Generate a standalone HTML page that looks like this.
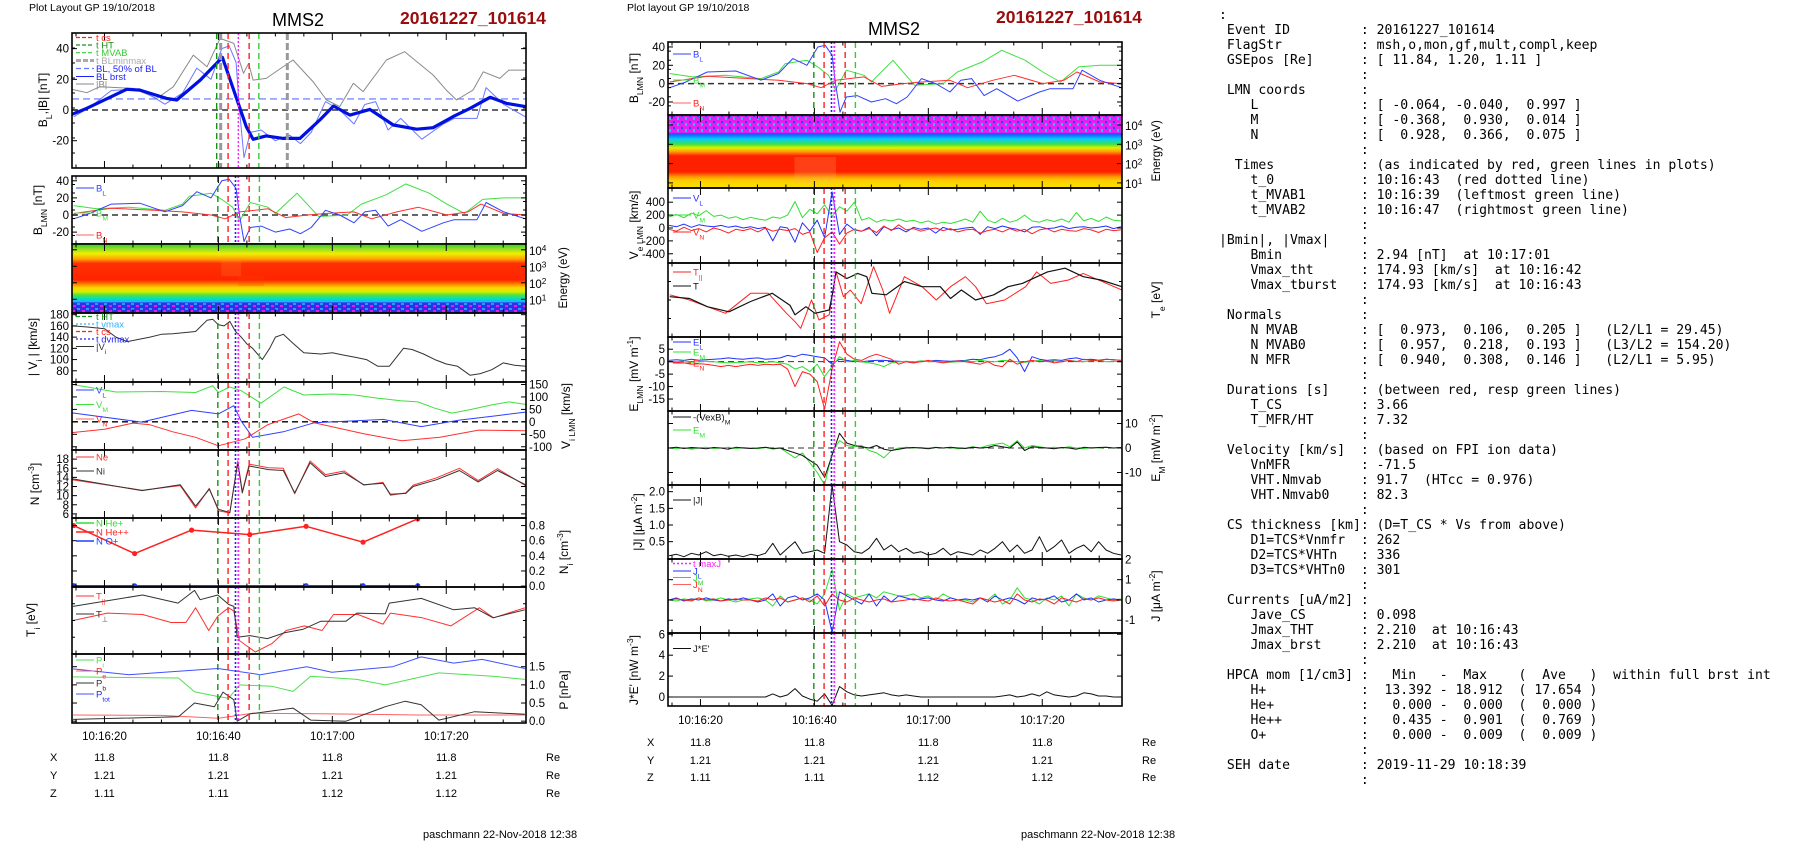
<!DOCTYPE html>
<html><head><meta charset="utf-8">
<style>
html,body{margin:0;padding:0;background:#fff;}
body{width:1804px;height:841px;overflow:hidden;position:relative;font-family:"Liberation Sans",sans-serif;}
#chart{position:absolute;left:0;top:0;}
#info{position:absolute;left:1219px;top:8px;margin:0;font-family:"DejaVu Sans Mono","Liberation Mono",monospace;font-size:13.1px;line-height:15px;color:#000;white-space:pre;}
</style></head>
<body>
<svg id="chart" width="1804" height="841" viewBox="0 0 1804 841" xmlns="http://www.w3.org/2000/svg">
<defs>
<pattern id="spkI" width="9" height="5" patternUnits="userSpaceOnUse"><rect width="9" height="5" fill="#3030e8"/><rect x="1" y="0" width="3" height="2" fill="#e020e8"/><rect x="5" y="3" width="3" height="2" fill="#20a0ff"/></pattern>
<pattern id="spkE" width="8" height="6" patternUnits="userSpaceOnUse"><rect width="8" height="6" fill="#e020f0"/><rect x="1" y="1" width="2" height="2" fill="#3040ff"/><rect x="5" y="3" width="2" height="3" fill="#20c0f0"/></pattern>
<linearGradient id="gI" x1="0" y1="0" x2="0" y2="1">
<stop offset="0" stop-color="#30d030"/><stop offset="0.08" stop-color="#a0e020"/><stop offset="0.14" stop-color="#f0f000"/><stop offset="0.22" stop-color="#ffa000"/><stop offset="0.28" stop-color="#ff3000"/><stop offset="0.52" stop-color="#ff2400"/><stop offset="0.58" stop-color="#ff8000"/><stop offset="0.63" stop-color="#ffd000"/><stop offset="0.69" stop-color="#d8f000"/><stop offset="0.74" stop-color="#50e040"/><stop offset="0.79" stop-color="#00e0c0"/><stop offset="0.84" stop-color="#20b0ff"/><stop offset="0.86" stop-color="#3030ff" stop-opacity="0"/></linearGradient>
<linearGradient id="gE" x1="0" y1="0" x2="0" y2="1">
<stop offset="0.24" stop-color="#3040ff" stop-opacity="0"/><stop offset="0.26" stop-color="#2050ff"/><stop offset="0.33" stop-color="#00d0ff"/><stop offset="0.40" stop-color="#40e040"/><stop offset="0.45" stop-color="#e0f000"/><stop offset="0.50" stop-color="#ffa000"/><stop offset="0.56" stop-color="#ff2000"/><stop offset="0.78" stop-color="#ff2000"/><stop offset="0.84" stop-color="#ff9000"/><stop offset="0.90" stop-color="#ffd000"/><stop offset="1" stop-color="#f8e000"/></linearGradient>
</defs>
</svg>
<pre id="info">:
 Event ID         : 20161227_101614
 FlagStr          : msh,o,mon,gf,mult,compl,keep
 GSEpos [Re]      : [ 11.84, 1.20, 1.11 ]
                  :
 LMN coords       :
    L             : [ -0.064, -0.040,  0.997 ]
    M             : [ -0.368,  0.930,  0.014 ]
    N             : [  0.928,  0.366,  0.075 ]
                  :
  Times           : (as indicated by red, green lines in plots)
    t_0           : 10:16:43  (red dotted line)
    t_MVAB1       : 10:16:39  (leftmost green line)
    t_MVAB2       : 10:16:47  (rightmost green line)
                  :
|Bmin|, |Vmax|    :
    Bmin          : 2.94 [nT]  at 10:17:01
    Vmax_tht      : 174.93 [km/s]  at 10:16:42
    Vmax_tburst   : 174.93 [km/s]  at 10:16:43
                  :
 Normals          :
    N MVAB        : [  0.973,  0.106,  0.205 ]   (L2/L1 = 29.45)
    N MVAB0       : [  0.957,  0.218,  0.193 ]   (L3/L2 = 154.20)
    N MFR         : [  0.940,  0.308,  0.146 ]   (L2/L1 = 5.95)
                  :
 Durations [s]    : (between red, resp green lines)
    T_CS          : 3.66
    T_MFR/HT      : 7.32
                  :
 Velocity [km/s]  : (based on FPI ion data)
    VnMFR         : -71.5
    VHT.Nmvab     : 91.7  (HTcc = 0.976)
    VHT.Nmvab0    : 82.3
                  :
 CS thickness [km]: (D=T_CS * Vs from above)
    D1=TCS*Vnmfr  : 262
    D2=TCS*VHTn   : 336
    D3=TCS*VHTn0  : 301
                  :
 Currents [uA/m2] :
    Jave_CS       : 0.098
    Jmax_THT      : 2.210  at 10:16:43
    Jmax_brst     : 2.210  at 10:16:43
                  :
 HPCA mom [1/cm3] :   Min   -  Max    (  Ave   )  within full brst int
    H+            :  13.392 - 18.912  ( 17.654 )
    He+           :   0.000 -  0.000  (  0.000 )
    He++          :   0.435 -  0.901  (  0.769 )
    O+            :   0.000 -  0.009  (  0.009 )
                  :
 SEH date         : 2019-11-29 10:18:39
                  :</pre>
<script>
// ---------- time axis ----------
const T0 = 14.3, T1 = 94.0;
const timeTicks = [20, 40, 60, 80];
const timeLabels = ["10:16:20", "10:16:40", "10:17:00", "10:17:20"];
const posX = ["11.8", "11.8", "11.8", "11.8"];
const posY = ["1.21", "1.21", "1.21", "1.21"];
const posZ = ["1.11", "1.11", "1.12", "1.12"];
// event line times
const evTimes = [39.9, 41.7, 43.0, 43.5, 45.4, 47.2];
const l1EvTimes = [39.7, 40.4, 41.7, 43.5, 45.4, 47.1, 52.1];
// ---------- left panel 1: BL, |B| ----------
const bThickT = [14.3,16.9,23.9,26.2,30.9,32.7,36.8,40.7,44.9,46.1,48.4,51.4,54.3,57.8,60.2,63.1,66.6,70.7,74.8,77.7,81.2,84.2,87.7,90.6,93.9];
const bThickV = [-2.8,1.1,13.5,13,7.6,6.5,19.5,34.3,-10.9,-19.1,-16.9,-18.5,-18.5,-6.5,2.6,-3.3,0.4,-9.8,-12.5,-11.5,-4.3,1.1,8.3,4.3,2.2];
const bMagT = [14.3,16.9,19.2,25.1,29.2,32.1,35.6,38,40.3,42.7,44.4,45.3,46.1,48.4,53.1,56.6,59,61.3,63.7,65.4,69.5,72.7,77.7,80,81.8,84.7,86.5,89.4,91,93.9];
const bMagV = [13.5,11.3,15.2,14.1,7.6,15.2,35.8,28.2,46.7,43.4,23.9,30.4,19.5,20.6,32.6,18.5,6.5,2.2,17.4,12,32.6,38,22.8,13,6.5,13,24.9,20.6,26,26];
const bHalf = 7.2;
// ---------- B LMN ----------
const bLT = [14.6,17.4,21.2,26.2,30.6,33.7,36.2,38.7,40.6,41.9,43.1,43.7,44.5,45.6,47.5,50,52.5,54.4,56.3,58.8,61.3,63.8,65.7,67.6,69.8,72,75.7,79.5,81.4,85.4,87,90.1,93.9];
const bLV = [-4.4,1.7,12.7,13.8,3.8,11,27.3,20,40,41.8,31,0,-31,-14.6,-13,-20,-16.4,-21.9,-14.6,5.5,0,-9.1,3.6,5.5,-13,-5.5,-19,-9.1,-5.5,-5.5,14.6,3.6,-4.4];
const bMT = [14.6,18.6,24.3,30.6,33.7,34.9,38.7,40.6,42.5,43.7,45.6,48.7,50,53.8,57.6,62.6,65.1,69.5,72.9,77,80.1,83.2,86.4,90.1,93.9];
const bMV = [11,7.3,9.1,5.5,12.7,21.9,25.5,18.2,9.1,-7.3,14.6,9.1,1.8,25.5,-1.8,0,12.7,23.7,36.4,25.5,12.7,1.8,18.2,20,20];
const bNT = [14.6,21.2,28.7,33.7,38.7,41.2,43.7,48.7,51.8,55.6,58.8,63.8,66.9,71.3,75.1,80.1,83.8,86.1,90.1,93.9];
const bNV = [1.8,8,5.5,3.6,0,-4.4,3.6,7.3,-3,0,1.8,3.6,-4.4,3.6,9.1,0,3.6,12.7,1.8,0];
// ---------- |Vi| ----------
const viT = [14.4,17,20,22,24,26,28,30,32,34,36,38,39,40,41,42,43,44,45,46,47.7,49,50,51.4,53,55,58,60,62,64,66,68,70,72.5,74,76,78,80,82,84.2,86,88,90,92,94];
const viV = [160,158,155,140,132,136,140,145,146,148,150,170,172,162,160,168,150,140,128,120,100,120,140,145,130,112,110,112,108,104,100,88,88,120,118,110,100,92,88,72,75,82,94,90,88];
// ---------- Vi LMN ----------
const vMT = [14.4,17,22,30,36,39,40,42,44,47.5,51.5,55,60,64,68,72,75,78,81,84,88,91,93.9];
const vMV = [150,140,120,122,118,145,118,140,125,75,140,108,112,108,95,85,80,55,35,48,68,80,70];
const vLT = [14.3,26.5,35.3,40,42.7,44,46,51.4,56.8,68.9,75.6,82.3,89,93.9];
const vLV = [36,-1,46,32,65,3,-62,-40,-4,10,-19,7,25,39];
const vNT = [14.3,20,25,28,32,36,40,44.7,48.7,54.1,56.8,65.5,72.2,78.9,85.7,93.9];
const vNV = [-43,-30,-5,-12,-40,-62,-96,-68,-11,32,-4,-48,-76,-62,-33,-36];
// ---------- densities ----------
const nT = [14.3,26.6,33.3,36,38.4,40,42,43.4,44.2,45.4,48.8,51.4,53.4,56.1,58.8,62.1,65.5,68.9,70.2,72.9,74.2,78.3,82.3,85.6,89,93.9];
const niV = [13.7,11.1,12.4,7.7,11.4,7,6.3,17.2,10.6,16.5,15.7,15.5,10.6,17.2,14.2,15,12.4,12.7,10.3,10.5,12,13.5,15.5,13,15.5,12.4];
const neV = [13.5,11.2,12.2,7.3,11.6,6.7,6.2,17.6,10.8,16.9,16.1,16,10.4,17.6,14.6,15.4,12.3,12.9,10.1,10.6,12.3,13.9,16,13.3,15.9,12.2];
const heT = [14.6,25.3,35.3,45.5,55.4,65.4,75];
const heV = [0.8,0.43,0.74,0.68,0.79,0.58,0.89];
const oT = [14.6,25.3,55.4,65.4,75];
const oV = [0.005,0.004,0.005,0.005,0.005];
// ---------- Ti ----------
const tPerpT = [14.5,26.7,32.9,35.8,36.8,39.9,41.8,42.7,43.3,45.5,48.6,51.7,54.9,58,62.4,64.3,69.3,70,75.6,81.3,85,88.2,93.8];
const tPerpV = [71,88,76,95,81,88,74,71,25,27.5,23,32,37,49,49,61,60,76,83,66,69,54,66];
const tParT = [14.5,20.5,26.7,31.7,34.3,36,38.3,39.9,41.8,42.7,43.7,46.5,49.4,51.9,55.1,58.2,60.2,64.5,68.9,70.2,75.8,80.8,85.8,88.3,93.8];
const tParV = [50,61,59,47,47,69,35,56.5,69,64,20,3,15.5,35,42,35,59,59,44.5,61,54,42,69,54,69];
// ---------- pressure ----------
const pTotT = [14.5,24.2,39.9,47.4,55.5,59.9,70.6,75.6,81.3,86.3,93.8];
const pTotV = [1.44,1.28,1.45,1.28,1.5,1.35,1.5,1.77,1.6,1.7,1.45];
const pIT = [14.5,33,35.8,39.9,41.8,43.7,49.4,53.1,56.2,64.3,69.3,78.7,88.2,93.8];
const pIV = [1.22,1.19,0.81,0.68,0.63,1.0,0.96,0.82,1.24,1.15,1.0,1.33,1.24,1.15];
const pBT = [14.5,33,35.8,39.3,40.8,42.7,43.3,45.5,53.1,56.2,62.4,69.3,72.8,75.6,78.7,85,93.8];
const pBV = [0.05,0.12,0.5,0.4,0.8,0.59,0,0.2,0.36,0.03,0,0.4,0.55,0.45,0.03,0.26,0.19];
const pET = [14.5,30,40,46,60,75,93.8];
const pEV = [0.17,0.16,0.08,0.22,0.2,0.17,0.17];
// ---------- Te ----------
const tePerpT = [14.6,18.1,21.2,25,28.8,32.6,35.7,36.6,38.5,40.1,42.6,43.2,43.8,45.7,47.6,49.2,50.1,52.6,55.8,58.9,62.1,63.9,65.8,68.3,71.5,74,76.5,80.9,84,87.2,90.3,94];
const tePerpV = [54.5,52,41,34,48,59,43,30,41,32,36.5,59,88,79,86,81.5,59,57,74.8,68,68,52,63.5,50,57,68,72.5,88,93,81.5,77,68];
const teParT = [14.6,18.1,21.2,24.4,28.8,31.9,35.1,36.6,37.6,39.5,40.8,42.6,43.8,45.1,46.3,48.2,50.4,52,53.2,55.8,58.9,61.4,63.9,66.5,68.3,70.2,73.4,77.1,79,81.5,84.6,87.2,94];
const teParV = [57,50,41,32,59,59,32,20.7,11.7,50,23,30,88,54.5,63.5,45,95,63.5,32,81.5,68,50,68,81.5,68,45,50,68,88,72.5,77,86,63.5];
// ---------- noisy burst series (common time base) ----------
const tN = [14.5,15.8,17.1,18.4,19.7,21,22.3,23.6,24.9,26.2,27.5,28.8,30.1,31.4,32.7,34,35.3,36.6,37.9,39.2,40.5,41.8,43.1,44.4,45.7,47,48.3,49.6,50.9,52.2,53.5,54.8,56.1,57.4,58.7,60,61.3,62.6,63.9,65.2,66.5,67.8,69.1,70.4,71.7,73,74.3,75.6,76.9,78.2,79.5,80.8,82.1,83.4,84.7,86,87.3,88.6,89.9,91.2,92.5,93.8];
const veM = [170,210,160,230,190,270,180,200,150,175,130,165,140,120,170,150,200,410,160,290,220,360,180,330,260,400,120,160,90,130,110,140,100,120,80,110,60,90,70,100,140,90,260,120,80,150,90,120,200,110,90,130,100,140,90,240,110,150,100,170,120,110];
const veL = [40,20,60,10,50,30,20,40,10,30,0,20,-10,10,-200,20,0,-220,80,-50,120,-150,560,-100,60,-30,-50,10,-120,20,-30,0,-60,10,-20,0,-80,10,-30,-20,0,10,-100,20,-10,30,0,-20,-60,10,20,-10,0,30,-10,10,20,0,10,30,-10,20];
const veN = [-20,-50,10,-40,-10,-60,0,-30,-80,-20,-40,-10,-60,0,-50,-20,-40,-10,-100,-60,-380,-150,-60,-250,-80,-20,-50,-10,-70,30,-40,50,-30,-10,-50,-20,0,-40,-10,-60,-30,-20,-80,-40,-20,-60,-10,-50,-20,-90,-30,-10,-60,-20,-40,-50,-10,-30,-70,-20,-40,-30];
const eL = [0.5,0.8,0.5,1,0.6,0.8,1,1.2,1.5,1.2,1,1.3,1.5,1,1.2,1.5,2.5,2,3,2.5,2,1.5,-1,1,0.5,0.2,0,0.3,0.5,0.5,0.3,0.2,0,-0.5,0.3,0.2,0.5,0.3,0.2,0.4,0.5,1,0.8,1.5,2,3,5,1.5,-4,2,1,0.5,0.8,0.5,1.2,1.5,0.8,1,0.6,1,0.8,0.5];
const eM = [0.2,0,0.3,-0.2,0,0.2,0,-0.3,-0.5,-0.3,-0.2,0,-0.5,-0.3,0,-0.5,-1,-3,-2,-4,-1,-6,-2,2,0,0.5,0,-0.5,-1,-2,-0.5,0,0.2,0,0.3,0,0.2,0,-0.2,0,0.3,0,0.5,0.2,0,0.5,0.3,0,-0.3,0.2,0.5,0,0.3,0,0.5,0.2,0,0.3,0.5,0,0.2,0];
const eN = [0,-0.3,-0.5,-1,-0.8,-1,-1.5,-2,-1.5,-2,-1.5,-1,-1.5,-1,-1.2,-1,-3,-10,-4,-5,-8,-19,-3,8,3,1,0.5,2,3,2,1,-1,0,-0.5,0,0.5,0,-0.5,0,0.3,0,-0.5,-1,0,-1.5,-2,1,-1,0,0.5,0,0.3,-0.5,0,0.5,0,1,0.5,0.3,1,0.8,0.5];
const vxbM = [0,0.3,-0.2,0.2,0,-0.3,0.2,0,-0.5,0.3,0,-0.2,0,0.3,-0.2,0,-1,-2,-3,-5,-7,-12,-3,6,2,1,0.5,0,1,-0.5,-1,-0.5,0,0.2,0,-0.3,0.2,0,0.3,0,-0.2,0.3,0,0.2,1,0.5,0,2.5,-1,0.5,0.2,0,-0.3,0.2,0,-0.5,0.3,0,0.2,0.3,0,0.2];
const emM = [0,-0.3,0.2,-0.5,0,0.3,-0.2,0,0.3,-0.3,0.2,0,-0.3,0.2,-0.5,0,-2,-4,-2,-6,-10,-15,-2,3,1,0.5,1,-1,-2,-4,-1,0,0.3,0,0.2,0,0.3,0,0.2,-0.3,0,0.5,0,1,1.5,2,0.5,3,0,1,0.5,0,0.3,0,0.5,0,-0.3,0.2,0,0.3,0,0.2];
const jMag = [0.08,0.12,0.05,0.15,0.1,0.2,0.08,0.12,0.06,0.1,0.05,0.12,0.08,0.15,0.45,0.1,0.3,0.5,0.15,0.2,0.25,0.15,2.2,0.5,0.4,0.2,0.15,0.3,0.6,0.25,0.4,0.2,0.3,0.15,0.2,0.1,0.15,0.3,0.1,0.2,0.15,0.1,0.25,0.15,0.3,0.5,0.2,0.4,0.15,0.25,0.65,0.2,0.35,0.55,0.15,0.3,0.4,0.2,0.5,0.25,0.15,0.1];
const jL = [0,0.1,-0.05,0.05,0,0.1,0,-0.05,0.05,0,0.1,0,-0.1,0,0.3,-0.3,0.1,0.2,0,0.1,0.3,0,-1.6,0.4,0.2,0,-0.2,0.3,-0.3,0.2,-0.1,0.2,0.1,0,0.05,0.1,0,-0.05,0.1,0,0.05,0,0.1,-0.1,0.2,0,0.1,0,-0.2,0.1,0,0.05,0.2,-0.1,0,0.3,0,0.1,-0.1,0,0.05,0];
const jM = [0,-0.05,0.05,0,0.1,-0.05,0,0.1,0,-0.1,0,0.05,0.1,0,-0.3,0.2,-0.1,0,0.1,0,-0.2,0.3,1.5,-0.5,0.3,0.1,0.2,0.3,0.1,0.4,0.3,0.2,0.2,0.3,0.1,0.2,0,0.3,0.1,0,0,-0.1,0.1,0,0.3,-0.2,0,0.6,0.1,0,-0.2,0.1,0,0.2,-0.3,0.3,0.1,0,0.2,0.1,0,0.05];
const jN = [0,0.05,0,-0.05,0.1,0,0.05,-0.05,0,0.05,0,0,-0.05,0.1,0,0.1,-0.1,0,0.1,-0.1,0.2,-0.3,0.3,0,-0.1,0.1,0,-0.1,0,0.05,-0.1,-0.05,0,0.05,0,-0.05,0.1,0,-0.05,0,-0.1,-0.2,0.1,0,-0.1,0,-0.2,0.3,0,-0.1,0.05,0,-0.2,0.1,0,-0.1,0.05,0,0.1,0,-0.05,0];
const jE = [0,0,0,0,0,0,0,0,0,0,0,0,0,0,0.3,0,0.2,0.8,0.1,-0.2,-0.4,0.3,-0.8,1,0.5,0.2,0.1,0.2,0.3,0.4,0.2,0.1,0.2,0.1,0,0,0,0,0,0,0,0,0,0,0,0.1,0.2,0,0.1,0.3,0.1,0.5,0.2,0.1,0,0.1,0.4,0.3,0.1,0.1,0,0];
// spectrogram energy tick decades
const decades = [4, 3, 2, 1];

const NS = "http://www.w3.org/2000/svg";
const svg = document.getElementById("chart");
function mk(tag, attrs, parent, name) {
  const e = document.createElementNS(NS, tag);
  for (const k in attrs) e.setAttribute(k, attrs[k]);
  
  
  (parent || svg).appendChild(e);
  return e;
}
function txt(x, y, parts, opt, parent, name) {
  opt = opt || {};
  const t = mk("text", {x: x, y: y, "font-size": opt.fs || 11, fill: opt.fill || "#000",
    "text-anchor": opt.anchor || "start", "font-family": "Liberation Sans, sans-serif",
    "font-weight": opt.fw || "normal"}, parent, name);
  if (opt.rot) t.setAttribute("transform", "rotate(-90 " + x + " " + y + ")");
  if (typeof parts === "string") parts = [[parts]];
  parts.forEach(p => {
    const s = document.createElementNS(NS, "tspan");
    s.textContent = p[0];
    if (p[1] === "sub") { s.setAttribute("baseline-shift", "sub"); s.setAttribute("font-size", (opt.fs || 11) * 0.72); }
    if (p[1] === "sup") { s.setAttribute("baseline-shift", "super"); s.setAttribute("font-size", (opt.fs || 11) * 0.72); }
    
    
    t.appendChild(s);
  });
  return t;
}
let clipN = 0;
function panel(x0, x1, y0, y1, dmin, dmax, name) {
  const g = mk("g", {}, svg, name);
  const id = "c" + (clipN++);
  const cp = mk("clipPath", {id: id}, svg.querySelector("defs"), name + "-clip");
  mk("rect", {x: x0, y: y0, width: x1 - x0, height: y1 - y0}, cp, name + "-clip-rect");
  const inner = mk("g", {"clip-path": "url(#" + id + ")"}, g, name + "-plot-area");
  const p = {x0, x1, y0, y1, dmin, dmax, g, inner, name};
  p.X = t => x0 + (t - T0) / (T1 - T0) * (x1 - x0);
  p.Y = v => y0 + (dmax - v) / (dmax - dmin) * (y1 - y0);
  return p;
}
function frame(p) {
  mk("rect", {x: p.x0, y: p.y0, width: p.x1 - p.x0, height: p.y1 - p.y0, fill: "none", stroke: "#000", "stroke-width": 1.6}, p.g, p.name + "-frame");
  for (let t = 15; t <= 90; t += 5) {
    const L = (t % 20 === 0) ? 7 : 3.5;
    const x = p.X(t);
    mk("line", {x1: x, x2: x, y1: p.y1, y2: p.y1 - L, stroke: "#000", "stroke-width": 1}, p.g, "x-tick");
    mk("line", {x1: x, x2: x, y1: p.y0, y2: p.y0 + L, stroke: "#000", "stroke-width": 1}, p.g, "x-tick");
  }
}
function yTicks(p, vals, side, fmt) {
  vals.forEach(v => {
    const y = p.Y(v);
    mk("line", {x1: p.x0, x2: p.x0 + 5, y1: y, y2: y, stroke: "#000"}, p.g, "y-tick");
    mk("line", {x1: p.x1, x2: p.x1 - 5, y1: y, y2: y, stroke: "#000"}, p.g, "y-tick");
    if (side) {
      const s = fmt ? fmt(v) : String(v);
      if (side === "left") txt(p.x0 - 3, y + 4, s, {anchor: "end", fs: 11.5}, p.g, "y-tick-label");
      else txt(p.x1 + 3, y + 4, s, {anchor: "start", fs: 11.5}, p.g, "y-tick-label");
    }
  });
}
function minorY(p, n) {
  for (let i = 1; i < n; i++) {
    const y = p.y0 + i * (p.y1 - p.y0) / n;
    mk("line", {x1: p.x0, x2: p.x0 + 3, y1: y, y2: y, stroke: "#000"}, p.g, "y-minor-tick");
    mk("line", {x1: p.x1, x2: p.x1 - 3, y1: y, y2: y, stroke: "#000"}, p.g, "y-minor-tick");
  }
}
function series(p, ts, vs, color, w, name, dash) {
  let d = "";
  ts.forEach((t, i) => { d += (i ? "L" : "M") + p.X(t).toFixed(1) + " " + p.Y(vs[i]).toFixed(1); });
  const a = {d: d, fill: "none", stroke: color, "stroke-width": w || 1, "stroke-linejoin": "round"};
  if (dash) a["stroke-dasharray"] = dash;
  return mk("path", a, p.inner, name);
}
function hline(p, v, color, dash, name, w) {
  mk("line", {x1: p.x0, x2: p.x1, y1: p.Y(v), y2: p.Y(v), stroke: color, "stroke-dasharray": dash, "stroke-width": w || 1.4}, p.inner, name);
}
function evLines(p, times, styles) {
  times.forEach((t, i) => {
    const s = styles[i];
    mk("line", {x1: p.X(t), x2: p.X(t), y1: p.y0, y2: p.y1, stroke: s[0], "stroke-width": s[1], "stroke-dasharray": s[2]}, p.inner, "event-line-" + s[3]);
  });
}
const evStyle = [["#139413",1.4,"6 4","t-ht-start"],["#ff2020",1.4,"6 4","t-cs-start"],["#2020ff",1.6,"2 2","t-dvmax"],["#ff20ff",1.8,"2 2","t-0"],["#ff2020",1.4,"6 4","t-cs-end"],["#33cc33",1.4,"6 4","t-ht-end"]];
const l1Style = [["#139413",1.4,"6 4","t-ht-start"],["#999",3,"7 3","t-blminmax-1"],["#ff2020",1.4,"6 4","t-cs-start"],["#ff20ff",1.4,"2 2","t-0"],["#ff2020",1.4,"6 4","t-cs-end"],["#33cc33",1.4,"6 4","t-mvab-end"],["#999",3,"7 3","t-blminmax-2"]];
function legend(p, x, items) {
  items.forEach(it => {
    const a = {x1: x, x2: x + 18, y1: it[0], y2: it[0], stroke: it[1], "stroke-width": it[3] || 1};
    if (it[2]) a["stroke-dasharray"] = it[2];
    mk("line", a, p.g, "legend-swatch");
    txt(x + 20, it[0] + 3.5, it[4], {fs: 9.5, fill: it[5] || it[1]}, p.g, "legend-label");
  });
}
function dots(p, ts, vs, color, name) {
  ts.forEach((t, i) => mk("circle", {cx: p.X(t), cy: p.Y(vs[i]), r: 2.6, fill: color}, p.inner, name));
}
function timeAxis(x0, x1, yLab, yX, yY, yZ, xLab, xRe, nm) {
  const p = {X: t => x0 + (t - T0) / (T1 - T0) * (x1 - x0)};
  const g = mk("g", {}, svg, nm);
  timeTicks.forEach((t, i) => {
    txt(p.X(t), yLab, timeLabels[i], {anchor: "middle", fs: 11.5}, g, "time-tick-label");
    txt(p.X(t), yX, posX[i], {anchor: "middle", fs: 11}, g, "x-position-value");
    txt(p.X(t), yY, posY[i], {anchor: "middle", fs: 11}, g, "y-position-value");
    txt(p.X(t), yZ, posZ[i], {anchor: "middle", fs: 11}, g, "z-position-value");
  });
  txt(xLab, yX, "X", {fs: 11}, g, "x-row-label");
  txt(xLab, yY, "Y", {fs: 11}, g, "y-row-label");
  txt(xLab, yZ, "Z", {fs: 11}, g, "z-row-label");
  [yX, yY, yZ].forEach(y => txt(xRe, y, "Re", {fs: 11}, g, "re-unit"));
}
function spectro(p, kind, decY, labX) {
  if (kind === "ion") {
    mk("rect", {x: p.x0, y: p.y0 + 0.84 * (p.y1 - p.y0), width: p.x1 - p.x0, height: 0.16 * (p.y1 - p.y0), fill: "url(#spkI)"}, p.inner, "ion-spectrogram-noise");
    mk("rect", {x: p.x0, y: p.y0, width: p.x1 - p.x0, height: p.y1 - p.y0, fill: "url(#gI)"}, p.inner, "ion-spectrogram");
    mk("rect", {x: p.X(40.5), y: p.y0 + 14, width: p.X(44) - p.X(40.5), height: 18, fill: "#ff9030", opacity: 0.2}, p.inner, "ion-spectrogram-disturbance");
    mk("rect", {x: p.X(43.5), y: p.y0 + 32, width: p.X(48) - p.X(43.5), height: 10, fill: "#ff4000", opacity: 0.25}, p.inner, "ion-spectrogram-disturbance");
  } else {
    mk("rect", {x: p.x0, y: p.y0, width: p.x1 - p.x0, height: 0.26 * (p.y1 - p.y0), fill: "url(#spkE)"}, p.inner, "electron-spectrogram-noise");
    mk("rect", {x: p.x0, y: p.y0, width: p.x1 - p.x0, height: p.y1 - p.y0, fill: "url(#gE)"}, p.inner, "electron-spectrogram");
    mk("rect", {x: p.X(36.5), y: p.y0 + 42, width: p.X(43.8) - p.X(36.5), height: 26, fill: "#ffb060", opacity: 0.22}, p.inner, "electron-spectrogram-disturbance");
  }
  decades.forEach(d => {
    const y = decY(d);
    mk("line", {x1: p.x1, x2: p.x1 - 5, y1: y, y2: y, stroke: "#000"}, p.g, "energy-tick");
    mk("line", {x1: p.x0, x2: p.x0 + 5, y1: y, y2: y, stroke: "#000"}, p.g, "energy-tick");
    txt(p.x1 + 3, y + 5, [["10"], [String(d), "sup"]], {fs: 11.5}, p.g, "energy-tick-label");
  });
  txt(labX, (p.y0 + p.y1) / 2 + 30, "Energy (eV)", {fs: 11.5, rot: true}, p.g, "energy-axis-title");
}

// ================= titles =================
txt(29, 11, "Plot Layout GP 19/10/2018", {fs: 10.5}, svg, "left-layout-caption");
txt(298, 26, "MMS2", {fs: 18, anchor: "middle"}, svg, "left-spacecraft-title");
txt(400, 24, "20161227_101614", {fs: 17.5, fw: "bold", fill: "#9a0c0c"}, svg, "left-event-id-title");
txt(627, 11, "Plot layout GP 19/10/2018", {fs: 10.5}, svg, "mid-layout-caption");
txt(894, 35, "MMS2", {fs: 18, anchor: "middle"}, svg, "mid-spacecraft-title");
txt(996, 23, "20161227_101614", {fs: 17.5, fw: "bold", fill: "#9a0c0c"}, svg, "mid-event-id-title");
txt(423, 838, "paschmann 22-Nov-2018 12:38", {fs: 11}, svg, "left-author-stamp");
txt(1021, 838, "paschmann 22-Nov-2018 12:38", {fs: 11}, svg, "mid-author-stamp");

const LX0 = 72, LX1 = 526, MX0 = 668, MX1 = 1122;

// ================= LEFT COLUMN =================
let p = panel(LX0, LX1, 33, 168, -37.8, 50.2, "bl-babs-panel");
hline(p, 0, "#333", "6 4", "zero-line");
hline(p, bHalf, "#7a8cff", "7 4", "bl-50pct-line");
series(p, bMagT, bMagV, "#8a8a8a", 1, "babs-line");
series(p, bLT, bLV, "#6a78ff", 1, "bl-brst-line");
series(p, bThickT, bThickV, "#0010e0", 3.2, "bl-smooth-line");
evLines(p, l1EvTimes, l1Style);
frame(p); yTicks(p, [40, 20, 0, -20], "left"); minorY(p, 9);
legend(p, 76, [[37.5,"#ff2020","4 2",1.2,[["t  cs"]]],[45,"#139413","4 2",1.2,[["t  HT"]]],[52.7,"#33cc33","4 2",1.2,[["t  MVAB"]],"#33cc33"],[60.5,"#aaa","5 2",3,[["t  BLminmax"]]],[68.5,"#6a78ff","5 3",1.2,[["BL, 50% of BL"]],"#2020ff"],[76.5,"#2020ff",null,1,[["BL  brst"]]],[84,"#888",null,1,[["|B|"]]]]);
txt(47, 100, [["B"], ["L", "sub"], [",|B| [nT]"]], {fs: 12, rot: true, anchor: "middle"}, p.g, "bl-axis-title");

p = panel(LX0, LX1, 176, 244, -33.9, 45.6, "blmn-panel-left");
hline(p, 0, "#333", "6 4", "zero-line");
series(p, bMT, bMV, "#40e040", 1, "bm-line");
series(p, bNT, bNV, "#ff3030", 1, "bn-line");
series(p, bLT, bLV, "#3040ff", 1, "bl-line");
evLines(p, evTimes, evStyle);
frame(p); yTicks(p, [40, 20, 0, -20], "left"); minorY(p, 8);
legend(p, 76, [[188,"#3040ff",null,1,[["B"],["L","sub"]]],[213,"#40e040",null,1,[["B"],["M","sub"]]],[235,"#ff6060",null,1,[["B"],["N","sub"]],"#ff2020"]]);
txt(42, 210, [["B"], ["LMN", "sub"], [" [nT]"]], {fs: 12, rot: true, anchor: "middle"}, p.g, "blmn-axis-title");

p = panel(LX0, LX1, 244, 313, 0, 1, "ion-spectrogram-panel");
spectro(p, "ion", d => 244 + (4.35 - d) * 16.5, 567);
frame(p);

p = panel(LX0, LX1, 313, 382, 60, 183, "vi-magnitude-panel");
series(p, viT, viV, "#333", 1, "vi-line");
evLines(p, evTimes, evStyle);
frame(p); yTicks(p, [180, 160, 140, 120, 100, 80], "left");
legend(p, 76, [[316.5,"#139413","4 2",1.2,[["t  HT"]]],[324,"#30b0ff","2 2",1.2,[["t  vmax"]]],[331.5,"#ff2020","4 2",1.2,[["t  cs"]]],[339,"#2020ff","2 2",1.2,[["t  dvmax"]]],[346.5,"#333",null,1,[["|V"],["i","sub"]],"#333"]]);
txt(37, 347, [["| V"], ["i", "sub"], [" | [km/s]"]], {fs: 12, rot: true, anchor: "middle"}, p.g, "vi-axis-title");

p = panel(LX0, LX1, 382, 450, -113, 160, "vi-lmn-panel");
hline(p, 0, "#000", "6 4", "zero-line");
series(p, vMT, vMV, "#40e040", 1, "vm-line");
series(p, vLT, vLV, "#3040ff", 1, "vl-line");
series(p, vNT, vNV, "#ff3030", 1, "vn-line");
evLines(p, evTimes, evStyle);
frame(p); yTicks(p, [150, 100, 50, 0, -50, -100], "right");
legend(p, 76, [[390,"#3040ff",null,1,[["V"],["L","sub"]]],[404.5,"#40e040",null,1,[["V"],["M","sub"]]],[419,"#ff6060",null,1,[["V"],["N","sub"]],"#ff2020"]]);
txt(570, 416, [["V"], ["i LMN", "sub"], [" [km/s]"]], {fs: 12, rot: true, anchor: "middle"}, p.g, "vi-lmn-axis-title");

p = panel(LX0, LX1, 450, 518, 5.1, 20, "density-panel");
series(p, nT, neV, "#ff3030", 1, "ne-line");
series(p, nT, niV, "#333", 1, "ni-line");
evLines(p, evTimes, evStyle);
frame(p); yTicks(p, [18, 16, 14, 12, 10, 8, 6], "left");
legend(p, 76, [[457,"#ff3030",null,1,[["Ne"]]],[471,"#333",null,1,[["Ni"]]]]);
txt(39, 484, [["N [cm"], ["-3", "sup"], ["]"]], {fs: 12, rot: true, anchor: "middle"}, p.g, "density-axis-title");

p = panel(LX0, LX1, 518, 587, -0.012, 0.9, "hpca-density-panel");
series(p, oT, oV, "#2040ff", 1.5, "o-plus-line");
dots(p, oT, oV, "#2040ff", "o-plus-point");
series(p, heT, heV, "#ff2020", 1.5, "he-pp-line");
dots(p, heT, heV, "#ff2020", "he-pp-point");
evLines(p, evTimes, evStyle);
frame(p); yTicks(p, [0.8, 0.6, 0.4, 0.2, 0.0], "right", v => v.toFixed(1));
legend(p, 76, [[523,"#30e030",null,1.5,[["N  He+"]]],[532,"#ff2020",null,1.5,[["N  He++"]]],[541,"#2040ff",null,1.5,[["N  O+"]]]]);
txt(568, 552, [["N"], ["i", "sub"], [" [cm"], ["-3", "sup"], ["]"]], {fs: 12, rot: true, anchor: "middle"}, p.g, "hpca-density-axis-title");

p = panel(LX0, LX1, 587, 654, 0, 100, "ion-temperature-panel");
series(p, tParT, tParV, "#ff3030", 1, "ti-par-line");
series(p, tPerpT, tPerpV, "#333", 1, "ti-perp-line");
evLines(p, evTimes, evStyle);
frame(p); minorY(p, 4);
legend(p, 76, [[596,"#ff3030",null,1,[["T"],["||","sub"]]],[614,"#333",null,1,[["T"],["⊥","sub"]]]]);
txt(35, 620, [["T"], ["i", "sub"], [" [eV]"]], {fs: 12, rot: true, anchor: "middle"}, p.g, "ti-axis-title");

p = panel(LX0, LX1, 654, 723, -0.05, 1.85, "pressure-panel");
series(p, pTotT, pTotV, "#4050ff", 1, "ptot-line");
series(p, pIT, pIV, "#50e050", 1, "pi-line");
series(p, pET, pEV, "#ff6060", 1, "pe-line");
series(p, pBT, pBV, "#333", 1, "pb-line");
evLines(p, evTimes, evStyle);
frame(p); yTicks(p, [1.5, 1.0, 0.5, 0.0], "right", v => v.toFixed(1));
legend(p, 76, [[660,"#50e050",null,1,[["P"],["i","sub"]]],[671,"#ff6060",null,1,[["P"],["e","sub"]],"#ff2020"],[683,"#333",null,1,[["P"],["b","sub"]]],[694,"#4050ff",null,1,[["P"],["tot","sub"]],"#2020ff"]]);
txt(568, 690, "P [nPa]", {fs: 12, rot: true, anchor: "middle"}, p.g, "pressure-axis-title");

timeAxis(LX0, LX1, 740, 761, 779, 797, 50, 546, "left-time-axis");

// ================= MIDDLE COLUMN =================
p = panel(MX0, MX1, 42, 115, -34.2, 45.4, "blmn-panel-mid");
hline(p, 0, "#333", "6 4", "zero-line");
series(p, bMT, bMV, "#40e040", 1, "bm-line");
series(p, bNT, bNV, "#ff3030", 1, "bn-line");
series(p, bLT, bLV, "#3040ff", 1, "bl-line");
evLines(p, evTimes, evStyle);
frame(p); yTicks(p, [40, 20, 0, -20], "left"); minorY(p, 8);
legend(p, 673, [[54,"#3040ff",null,1,[["B"],["L","sub"]]],[80,"#40e040",null,1,[["B"],["M","sub"]]],[103,"#ff6060",null,1,[["B"],["N","sub"]],"#ff2020"]]);
txt(638, 78, [["B"], ["LMN", "sub"], [" [nT]"]], {fs: 12, rot: true, anchor: "middle"}, p.g, "blmn-mid-axis-title");

p = panel(MX0, MX1, 115, 188, 0, 1, "electron-spectrogram-panel");
spectro(p, "ele", d => 125 + (4 - d) * 19.3, 1160);
frame(p);

p = panel(MX0, MX1, 188, 263, -543, 620, "ve-lmn-panel");
series(p, tN, veM, "#30e030", 1, "vem-line");
series(p, tN, veL, "#2030ff", 1, "vel-line");
series(p, tN, veN, "#ff2020", 1, "ven-line");
evLines(p, evTimes, evStyle);
frame(p); yTicks(p, [400, 200, 0, -200, -400], "left");
legend(p, 673, [[198,"#2030ff",null,1,[["V"],["L","sub"]]],[215,"#30e030",null,1,[["V"],["M","sub"]]],[232,"#ff2020",null,1,[["V"],["N","sub"]]]]);
txt(638, 225, [["V"], ["e LMN", "sub"], [" [km/s]"]], {fs: 12, rot: true, anchor: "middle"}, p.g, "ve-lmn-axis-title");

p = panel(MX0, MX1, 263, 337, 0, 100, "electron-temperature-panel");
series(p, teParT, teParV, "#ff2020", 1, "te-par-line");
series(p, tePerpT, tePerpV, "#111", 1.2, "te-perp-line");
evLines(p, evTimes, evStyle);
frame(p); minorY(p, 4);
legend(p, 673, [[272,"#ff2020",null,1,[["T"],["||","sub"]]],[286,"#111",null,1,[["T"]]]]);
txt(1160, 300, [["T"], ["e", "sub"], [" [eV]"]], {fs: 12, rot: true, anchor: "middle"}, p.g, "te-axis-title");

p = panel(MX0, MX1, 337, 411, -19.8, 9.9, "e-lmn-panel");
hline(p, 0, "#333", "6 4", "zero-line", 1);
series(p, tN, eL, "#2030ff", 1, "el-line");
series(p, tN, eM, "#30e030", 1, "em-line");
series(p, tN, eN, "#ff2020", 1, "en-line");
evLines(p, evTimes, evStyle);
frame(p); yTicks(p, [5, 0, -5, -10, -15], "left");
legend(p, 673, [[342,"#2030ff",null,1,[["E"],["L","sub"]]],[352,"#30e030",null,1,[["E"],["M","sub"]]],[363,"#ff2020",null,1,[["E"],["N","sub"]]]]);
txt(638, 374, [["E"], ["LMN", "sub"], ["  [mV m"], ["-1", "sup"], ["]"]], {fs: 12, rot: true, anchor: "middle"}, p.g, "e-lmn-axis-title");

p = panel(MX0, MX1, 411, 485, -15.1, 15.1, "em-panel");
hline(p, 0, "#333", "6 4", "zero-line", 1);
series(p, tN, emM, "#30e030", 1, "em-green-line");
series(p, tN, vxbM, "#111", 1, "vexb-m-line");
evLines(p, evTimes, evStyle);
frame(p); yTicks(p, [10, 0, -10], "right");
legend(p, 673, [[417,"#111",null,1,[["-(VexB)"],["M","sub"]]],[430,"#30e030",null,1,[["E"],["M","sub"]]]]);
txt(1160, 448, [["E"], ["M", "sub"], [" [mW m"], ["-2", "sup"], ["]"]], {fs: 12, rot: true, anchor: "middle"}, p.g, "em-axis-title");

p = panel(MX0, MX1, 485, 559, -0.02, 2.2, "j-magnitude-panel");
series(p, tN, jMag, "#111", 1, "j-magnitude-line");
evLines(p, evTimes, evStyle);
frame(p); yTicks(p, [2.0, 1.5, 1.0, 0.5], "left", v => v.toFixed(1));
legend(p, 673, [[500,"#111",null,1,[["|J|"]]]]);
txt(642, 522, [["|J| [μA m"], ["-2", "sup"], ["]"]], {fs: 12, rot: true, anchor: "middle"}, p.g, "j-magnitude-axis-title");

p = panel(MX0, MX1, 559, 633, -1.63, 2.02, "j-lmn-panel");
series(p, tN, jM, "#30e030", 1, "jm-line");
series(p, tN, jL, "#2030ff", 1, "jl-line");
series(p, tN, jN, "#ff2020", 1, "jn-line");
evLines(p, evTimes, evStyle);
frame(p); yTicks(p, [2, 1, 0, -1], "right");
legend(p, 673, [[563.5,"#ff20ff","2 2",1.5,[["t  maxJ"]]],[571,"#2030ff",null,1,[["J"],["L","sub"]]],[577.5,"#30e030",null,1,[["J"],["M","sub"]]],[584.5,"#ff6060",null,1,[["J"],["N","sub"]],"#ff2020"]]);
txt(1160, 596, [["J [μA m"], ["-2", "sup"], ["]"]], {fs: 12, rot: true, anchor: "middle"}, p.g, "j-lmn-axis-title");

p = panel(MX0, MX1, 633, 706, -0.86, 6.12, "je-panel");
series(p, tN, jE, "#111", 1, "je-line");
evLines(p, evTimes, evStyle);
frame(p); yTicks(p, [6, 4, 2, 0], "left");
legend(p, 673, [[648.5,"#111",null,1,[["J*E'"]]]]);
txt(638, 670, [["J*E' [nW m"], ["-3", "sup"], ["]"]], {fs: 12, rot: true, anchor: "middle"}, p.g, "je-axis-title");

timeAxis(MX0, MX1, 724, 746, 764, 781, 647, 1142, "mid-time-axis");
</script>
</body></html>
